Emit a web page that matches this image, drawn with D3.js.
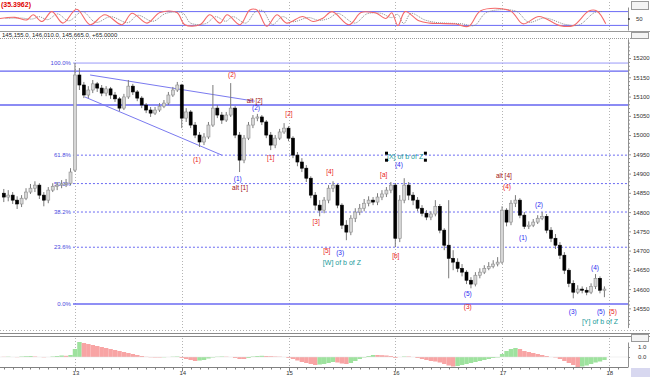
<!DOCTYPE html>
<html>
<head>
<meta charset="utf-8">
<script src="https://cdn.jsdelivr.net/npm/d3@7/dist/d3.min.js"></script>
<style>
body { margin: 0; background: #fff; }
svg { display: block; }
text { font-family: "Liberation Sans", Arial, sans-serif; }
</style>
</head>
<body>
<svg width="650" height="377"></svg>
<script>

// ---- data ----
let dayLabels = ['13', '14', '15', '16', '17', '18'];
let dayHours = [0, 24, 48, 72, 96, 120];
let firstHour = -16;   // hour of the first bar, relative to day 13 00:00

// hourly bars: [open, high, low, close]
let ohlc = [
  [14849,14860,14826,14839],[14839,14857,14828,14844],[14844,14852,14821,14831],[14831,14841,14808,14821],
  [14821,14844,14813,14836],[14836,14862,14831,14852],[14852,14873,14847,14862],[14862,14880,14852,14870],
  [14870,14875,14834,14844],[14844,14852,14815,14831],[14831,14865,14823,14857],[14857,14875,14852,14867],
  [14867,14878,14857,14870],[14870,14883,14862,14873],[14873,14886,14865,14875],[14875,14914,14870,14904],
  [14909,15187,14904,15156],[15156,15174,15117,15130],[15130,15138,15096,15104],[15104,15127,15096,15117],
  [15117,15143,15109,15133],[15133,15138,15112,15122],[15122,15130,15101,15109],[15109,15127,15101,15120],
  [15120,15125,15094,15104],[15104,15112,15086,15094],[15094,15099,15062,15070],[15070,15107,15065,15099],
  [15099,15143,15094,15127],[15127,15133,15104,15112],[15112,15117,15088,15096],[15096,15101,15070,15078],
  [15078,15083,15057,15065],[15065,15073,15047,15057],[15057,15073,15052,15065],[15065,15083,15060,15075],
  [15075,15091,15070,15083],[15083,15112,15078,15104],[15104,15125,15099,15117],[15117,15138,15112,15130],
  [15130,15133,15018,15044],[15044,15070,15034,15060],[15060,15065,15018,15026],[15026,15034,14992,15000],
  [15000,15008,14969,14982],[14982,15005,14974,14995],[14995,15034,14990,15026],[15026,15130,15021,15070],
  [15070,15078,15044,15052],[15052,15060,15029,15039],[15039,15060,15034,15052],[15052,15135,15047,15070],
  [15070,15075,14992,15000],[15000,15008,14904,14935],[14935,15000,14927,14992],[14992,15034,14987,15026],
  [15026,15052,15018,15044],[15044,15055,15036,15047],[15047,15052,15026,15034],[15034,15039,14992,15000],
  [15000,15008,14961,14974],[14974,15000,14966,14992],[14992,15016,14987,15008],[15008,15031,15003,15018],
  [15018,15023,14984,14992],[14992,14997,14940,14948],[14948,14956,14919,14930],[14930,14940,14904,14914],
  [14914,14922,14878,14888],[14888,14893,14836,14844],[14844,14852,14805,14818],[14818,14831,14789,14805],
  [14805,14839,14797,14831],[14831,14870,14823,14862],[14862,14880,14852,14870],[14870,14873,14810,14818],
  [14818,14823,14756,14766],[14766,14779,14727,14748],[14748,14792,14740,14784],[14784,14810,14774,14800],
  [14800,14821,14792,14810],[14810,14834,14802,14823],[14823,14841,14815,14831],[14831,14839,14818,14826],
  [14826,14849,14818,14839],[14839,14857,14831,14847],[14847,14865,14839,14857],[14857,14878,14849,14870],
  [14870,14875,14709,14732],[14732,14844,14722,14831],[14831,14888,14823,14870],[14870,14878,14831,14844],
  [14844,14852,14818,14831],[14831,14839,14802,14810],[14810,14818,14789,14797],[14797,14805,14779,14787],
  [14787,14802,14779,14795],[14795,14831,14789,14815],[14815,14821,14745,14753],[14753,14758,14701,14714],
  [14714,14831,14628,14680],[14680,14701,14649,14670],[14670,14680,14644,14654],[14654,14665,14633,14644],
  [14644,14649,14613,14623],[14623,14631,14602,14613],[14613,14644,14607,14636],[14636,14654,14628,14644],
  [14644,14662,14639,14654],[14654,14670,14649,14659],[14659,14675,14654,14665],[14665,14683,14659,14670],
  [14670,14815,14665,14805],[14805,14810,14763,14774],[14774,14831,14766,14823],[14823,14844,14813,14831],
  [14831,14836,14784,14792],[14792,14800,14756,14763],[14763,14776,14756,14766],[14766,14782,14761,14774],
  [14774,14792,14769,14784],[14784,14800,14779,14789],[14789,14795,14745,14753],[14753,14761,14722,14732],
  [14732,14743,14704,14714],[14714,14722,14678,14688],[14688,14696,14639,14649],[14649,14654,14605,14615],
  [14615,14623,14576,14592],[14592,14610,14587,14600],[14600,14607,14589,14597],[14597,14605,14584,14592],
  [14592,14615,14587,14607],[14607,14639,14600,14628],[14628,14633,14589,14597],[14597,14607,14579,14600]
];

// oscillator (top panel): turning points, hour -> value
let oscHours = [-16.9,-13.5,-10.8,-9.4,-7.4,-5.2,-2.7,0.4,3.4,6.7,10.6,12.8,16.2,19.1,22.9,
  24.7,28.1,30.3,32.6,34.2,37.1,39.3,40.9,43.1,45.4,47.6,51.2,53.5,55.7,57.8,61.6,
  64.3,67,67.9,69.9,71.2,72.6,74.2,77.3,79.8,82,85.6,88.5,91.2,97.8,100.7,104.3,
  109,112,115.5,117.3,119.3];
let oscValues = [50,55,44,66,37,80,30,90,23,66,23,73,30,76,76,
  23,23,66,30,66,23,87,87,16,66,30,59,37,51,80,23,
  76,76,72,50,75,19,80,40,30,28,26,16,84,84,27,59,
  19,19,83,83,27];
let sigValues = [50,52,48,58,45,70,40,80,33,58,32,64,38,72,74,
  30,28,58,38,58,30,80,84,24,58,36,54,42,50,72,30,
  70,74,70,54,68,28,72,44,33,30,27,20,76,82,34,52,
  24,22,76,80,34];
let oscTitle = '(35.3962)';

// histogram (bottom panel), one value per bar
let histValues = [
  0.02,0.03,0,-0.02,0.05,0.08,0.1,0.05,0,-0.03,0,0.05,0.1,0.15,0.12,0.2,
  0.8,1.5,1.4,1.3,1.2,1.1,1.0,0.9,0.8,0.7,0.6,0.5,0.4,0.3,0.2,0.1,
  0.02,-0.03,-0.05,-0.05,-0.03,0,0.03,0.05,
  -0.1,-0.2,-0.3,-0.4,-0.35,-0.3,-0.15,-0.05,
  0.03,0.05,0.03,0,
  -0.1,-0.2,-0.2,-0.1,
  0.05,0.1,0.12,0.1,0.08,0.05,0.03,0,
  -0.1,-0.2,-0.35,-0.5,-0.6,-0.7,-0.8,
  -0.75,-0.7,-0.6,-0.5,-0.55,-0.65,-0.7,-0.6,-0.4,-0.2,-0.05,
  0.1,0.2,0.2,0.18,0.15,0.1,
  -0.1,0,0.05,0.05,0,
  -0.1,-0.2,-0.3,-0.4,-0.45,-0.55,-0.7,-0.85,-0.95,
  -0.9,-0.8,-0.7,-0.6,-0.5,-0.4,-0.3,-0.2,
  -0.1,-0.05,
  0.3,0.6,0.8,0.9,
  0.8,0.6,0.5,0.4,0.3,0.2,
  0.1,0,-0.05,
  -0.2,-0.4,-0.6,-0.8,-1.0,
  -0.95,-0.85,-0.7,-0.55,-0.45,-0.3
];

// fibonacci retracement
let fibHigh = 15187, fibLow = 14561, fibStartHour = 0;
let fibRatios = [1, 0.618, 0.5, 0.382, 0.236, 0];
let fibLabels = ['100.0%', '61.8%', '50.0%', '38.2%', '23.6%', '0.0%'];

// horizontal lines and wedge trendlines
let hLines = [15166, 15078];
let trendLines = [[3.4, 15156, 40.4, 15088], [2.2, 15099, 33, 14948]];

// wave labels: text, hour, price, kind
let waveLabels = [
  ['(1)', 27.4, 14935, 'red'], ['(2)', 35.3, 15156, 'red'], ['alt [2]', 40.4, 15088, 'alt'],
  ['(2)', 40.7, 15070, 'blue'], ['(1)', 36.6, 14886, 'blue'], ['alt [1]', 37.1, 14863, 'alt'],
  ['[1]', 44, 14940, 'red'], ['[2]', 48.1, 15055, 'red'], ['[3]', 54.2, 14774, 'red'],
  ['[4]', 57.3, 14904, 'red'], ['[5]', 56.6, 14699, 'red'], ['(3)', 59.6, 14694, 'blue'],
  ['[W] of b of Z', 60, 14670, 'name'], ['[a]', 69.4, 14896, 'red'], ['(4)', 72.8, 14922, 'blue'],
  ['[b]', 72.1, 14686, 'red'], ['alt [4]', 96.4, 14894, 'alt'], ['(4)', 97.1, 14865, 'red'],
  ['(2)', 104.3, 14818, 'blue'], ['(1)', 100.7, 14733, 'blue'], ['(5)', 88.3, 14587, 'blue'],
  ['(3)', 88.3, 14553, 'red'], ['(3)', 111.9, 14540, 'blue'], ['(4)', 116.9, 14655, 'blue'],
  ['(5)', 118.2, 14540, 'blue'], ['(5)', 120.9, 14540, 'red'], ['[Y] of b of Z', 118, 14517, 'name']
];
let selectedLabel = ['[X] of b of Z', 74.2, 14945, 'name'];

let headerText = '145,155.0, 146,010.0, 145,665.0, +65.0000';

// ---- drawing ----
let svg = d3.select('svg');
let width = +svg.attr('width');
let height = +svg.attr('height');
let plotRight = 628;

let colors = { red: '#e82020', blue: '#2c2cf0', alt: '#a01010', name: '#179a9a' };

let x = d3.scaleLinear().domain([-16.85, 124.3]).range([0, plotRight]);
let y = d3.scaleLinear().domain([14500, 15250]).range([327.6, 38.8]);
let yOsc = d3.scaleLinear().domain([0, 100]).range([30, 7]);
let yHist = d3.scaleLinear().domain([-1, 1.5]).range([367, 342]);

// panel separators
[31.5, 38.5].forEach(v => svg.append('line').attr('x1', 0).attr('x2', width)
  .attr('y1', v).attr('y2', v).attr('stroke', '#9a9a9a').attr('stroke-dasharray', v == 38.5 ? '1,1' : null));
[330.5].forEach(v => svg.append('line').attr('x1', 0).attr('x2', width)
  .attr('y1', v).attr('y2', v).attr('stroke', '#b0b0b0').attr('stroke-dasharray', '1,2'));
[333.5, 336.5].forEach(v => svg.append('line').attr('x1', 0).attr('x2', width)
  .attr('y1', v).attr('y2', v).attr('stroke', '#8a8a8a'));

// day gridlines in each panel
[[2, 30], [39, 330], [338, 367]].forEach(p => {
  svg.append('g').selectAll('line')
    .data(dayHours)
    .enter().append('line')
    .attr('x1', d => Math.round(x(d)) + 0.5)
    .attr('x2', d => Math.round(x(d)) + 0.5)
    .attr('y1', p[0]).attr('y2', p[1])
    .attr('stroke', '#b4b4b4')
    .attr('stroke-dasharray', '1,2');
});

// ---- oscillator panel ----
[80, 20].forEach(v => svg.append('line')
  .attr('x1', 0).attr('x2', plotRight)
  .attr('y1', yOsc(v)).attr('y2', yOsc(v))
  .attr('stroke', '#6a6af5').attr('stroke-width', 1));

let oscLine = d3.line().curve(d3.curveCatmullRom)
  .x((d, i) => x(d))
  .y((d, i) => yOsc(oscValues[i]));
let sigLine = d3.line().curve(d3.curveCatmullRom)
  .x((d, i) => x(d + 1.3))
  .y((d, i) => yOsc(sigValues[i]));

svg.append('path').attr('d', sigLine(oscHours.slice(0, -1)))
  .attr('fill', 'none').attr('stroke', '#8a8a8a').attr('stroke-dasharray', '1,1');
svg.append('path').attr('d', oscLine(oscHours))
  .attr('fill', 'none').attr('stroke', '#f46a6a').attr('stroke-width', 1.1);

svg.append('text').attr('x', 1).attr('y', 7)
  .attr('font-size', '7px').attr('fill', '#e00000').attr('font-weight', 'bold')
  .text(oscTitle);

svg.append('g')
  .attr('transform', 'translate(' + plotRight + ',0)')
  .call(d3.axisRight(yOsc).tickValues([50]).tickSize(2).tickSizeOuter(0))
  .call(g => g.select('.domain').attr('stroke', '#909090'))
  .call(g => g.selectAll('text').attr('font-size', '6px').attr('fill', '#333').attr('x', 8));

// ---- main panel ----
svg.append('text').attr('x', 2).attr('y', 37)
  .attr('font-size', '6px').attr('fill', '#222')
  .text(headerText);

// horizontal full-width lines
svg.append('g').selectAll('line')
  .data(hLines)
  .enter().append('line')
  .attr('x1', 0).attr('x2', plotRight)
  .attr('y1', d => y(d)).attr('y2', d => y(d))
  .attr('stroke', '#6464f0').attr('stroke-width', 1.4);

// fib levels
let fib = svg.append('g');
fib.selectAll('line')
  .data(fibRatios)
  .enter().append('line')
  .attr('x1', x(fibStartHour) - 2).attr('x2', plotRight)
  .attr('y1', d => y(fibLow + d * (fibHigh - fibLow)))
  .attr('y2', d => y(fibLow + d * (fibHigh - fibLow)))
  .attr('stroke', d => d == 1 ? '#9a9af8' : '#6a6af2')
  .attr('stroke-width', d => d == 0 ? 1.5 : 1)
  .attr('stroke-dasharray', d => (d == 0 || d == 1) ? null : '2,2');
fib.selectAll('text')
  .data(fibRatios)
  .enter().append('text')
  .attr('x', x(fibStartHour) - 4)
  .attr('y', d => y(fibLow + d * (fibHigh - fibLow)))
  .attr('dy', '0.35em')
  .attr('text-anchor', 'end')
  .attr('font-size', '6px')
  .attr('fill', '#4a4ae0')
  .text((d, i) => fibLabels[i]);

// wedge trendlines
svg.append('g').selectAll('line')
  .data(trendLines)
  .enter().append('line')
  .attr('x1', d => x(d[0])).attr('y1', d => y(d[1]))
  .attr('x2', d => x(d[2])).attr('y2', d => y(d[3]))
  .attr('stroke', '#7a7af0').attr('stroke-width', 1);

// candles
let candles = svg.append('g').selectAll('g')
  .data(ohlc)
  .enter().append('g')
  .attr('transform', (d, i) => 'translate(' + x(firstHour + i) + ',0)');

candles.append('line')
  .attr('y1', d => y(d[1]))
  .attr('y2', d => y(d[2]))
  .attr('stroke', '#7a7a7a')
  .attr('stroke-width', 1);

candles.append('rect')
  .attr('x', -1.5)
  .attr('width', 3)
  .attr('y', d => y(Math.max(d[0], d[3])))
  .attr('height', d => Math.max(1, Math.abs(y(d[0]) - y(d[3]))))
  .attr('fill', d => d[3] < d[0] ? '#000' : '#d6d6d6')
  .attr('stroke', d => d[3] < d[0] ? '#000' : '#8c8c8c')
  .attr('stroke-width', 0.6);

// wave labels
let labelG = svg.append('g');
labelG.selectAll('text')
  .data(waveLabels)
  .enter().append('text')
  .attr('x', d => x(d[1]))
  .attr('y', d => y(d[2]))
  .attr('dy', '0.35em')
  .attr('text-anchor', 'middle')
  .attr('font-size', d => d[3] == 'name' ? '7px' : '6.5px')
  .attr('fill', d => colors[d[3]])
  .text(d => d[0]);

let sel = labelG.append('text')
  .attr('x', x(selectedLabel[1]))
  .attr('y', y(selectedLabel[2]))
  .attr('dy', '0.35em')
  .attr('text-anchor', 'middle')
  .attr('font-size', '7px')
  .attr('fill', colors[selectedLabel[3]])
  .text(selectedLabel[0]);
let bb = sel.node().getBBox();
[[bb.x - 2, bb.y - 1], [bb.x - 2, bb.y + bb.height - 2], [bb.x + bb.width, bb.y - 1], [bb.x + bb.width, bb.y + bb.height - 2]]
  .forEach(c => labelG.append('rect').attr('x', c[0]).attr('y', c[1])
    .attr('width', 3).attr('height', 3).attr('fill', '#000'));

// price axis
let minor = d3.range(14510, 15250, 10).filter(v => v % 50 != 0);
svg.append('g')
  .attr('transform', 'translate(' + plotRight + ',0)')
  .call(d3.axisRight(y).tickValues(minor).tickSize(2).tickSizeOuter(0).tickFormat(''))
  .call(g => g.select('.domain').attr('stroke', '#909090'))
  .call(g => g.selectAll('line').attr('stroke', '#909090'));
svg.append('g')
  .attr('transform', 'translate(' + plotRight + ',0)')
  .call(d3.axisRight(y).tickValues(d3.range(14550, 15201, 50)).tickSize(3).tickSizeOuter(0).tickFormat(d3.format('d')))
  .call(g => g.select('.domain').remove())
  .call(g => g.selectAll('line').attr('stroke', '#909090'))
  .call(g => g.selectAll('text').attr('font-size', '6px').attr('fill', '#333').attr('x', 5));

// ---- histogram panel ----
svg.append('g').selectAll('rect')
  .data(histValues)
  .enter().append('rect')
  .attr('x', (d, i) => x(firstHour + i) - 2.2)
  .attr('width', 4.45)
  .attr('y', d => Math.min(yHist(d), yHist(0)))
  .attr('height', d => Math.abs(yHist(d) - yHist(0)))
  .attr('fill', (d, i) => (i > 0 && d > histValues[i - 1]) ? '#9ee29e' : '#f8a4a4');

svg.append('line')
  .attr('x1', 0).attr('x2', plotRight)
  .attr('y1', yHist(0)).attr('y2', yHist(0))
  .attr('stroke', '#e0e0e0').attr('stroke-width', 0.5);

svg.append('g')
  .attr('transform', 'translate(' + plotRight + ',0)')
  .call(d3.axisRight(yHist).tickValues([0, 1]).tickSize(2).tickSizeOuter(0))
  .call(g => g.select('.domain').attr('stroke', '#909090'))
  .call(g => g.selectAll('line').attr('stroke', '#909090'))
  .call(g => g.selectAll('text').attr('font-size', '6px').attr('fill', '#333').attr('x', 10));

// time axis
let tAxis = svg.append('g').attr('transform', 'translate(0,367.5)');
tAxis.append('line').attr('x1', 0).attr('x2', plotRight).attr('stroke', '#808080');
tAxis.selectAll('line.t')
  .data(d3.range(-16, 124, 2))
  .enter().append('line')
  .attr('class', 't')
  .attr('x1', d => Math.round(x(d)) + 0.5).attr('x2', d => Math.round(x(d)) + 0.5)
  .attr('y1', 0).attr('y2', d => d % 24 == 0 ? 4 : 2)
  .attr('stroke', '#808080');
tAxis.selectAll('text')
  .data(dayHours)
  .enter().append('text')
  .attr('x', d => x(d) + 1)
  .attr('y', 7.5)
  .attr('text-anchor', 'middle')
  .attr('font-size', '6px')
  .attr('fill', '#333')
  .text((d, i) => dayLabels[i]);

// corner boxes of the charting window
[[631, 1, 17, 8], [631, 32, 17, 6], [631, 334, 17, 7]].forEach(b => svg.append('rect')
  .attr('x', b[0] + 0.5).attr('y', b[1] + 0.5).attr('width', b[2]).attr('height', b[3])
  .attr('fill', '#f4f4f4').attr('stroke', '#9a9a9a'));
svg.append('rect').attr('x', 631).attr('y', 368).attr('width', 19).attr('height', 9)
  .attr('fill', '#d8d8f0');

</script>
</body>
</html>
